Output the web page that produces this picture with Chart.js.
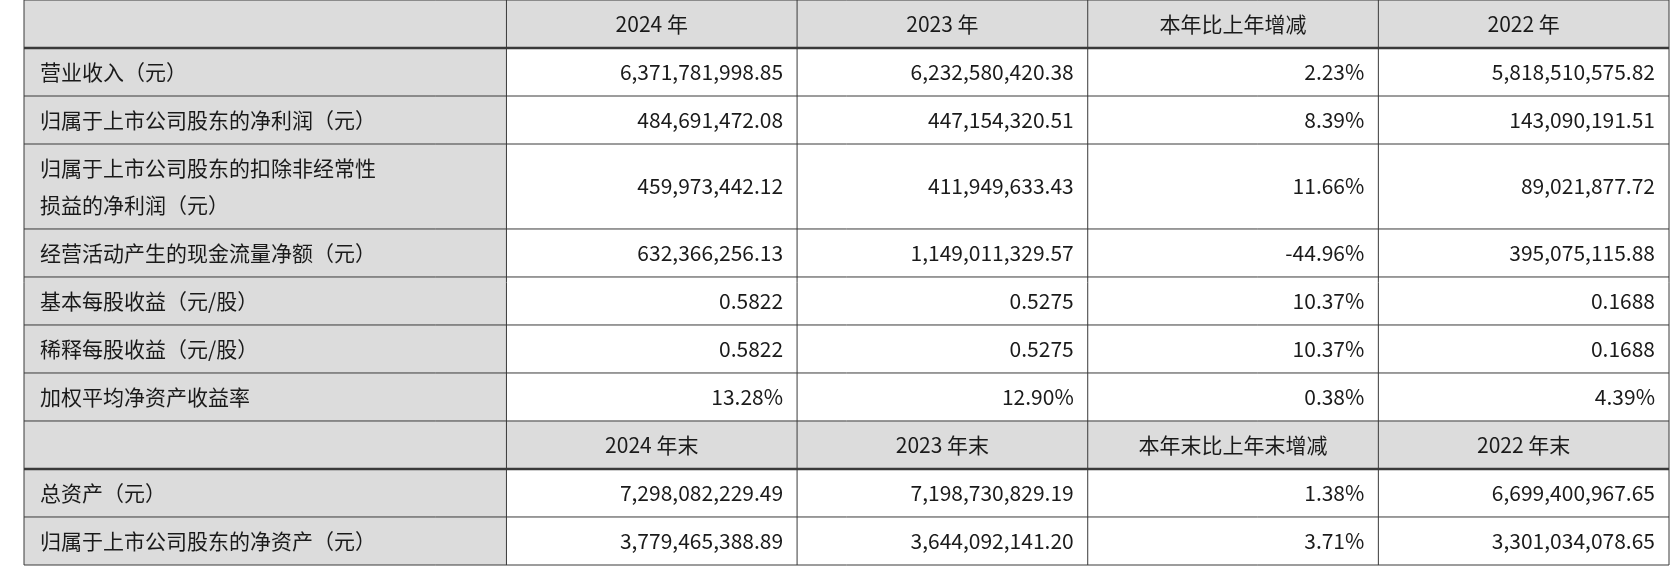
<!DOCTYPE html>
<html><head><meta charset="utf-8">
<script src="https://cdn.jsdelivr.net/npm/chart.js@4"></script>
<style>html,body{margin:0;padding:0;background:#fff}#w{width:1671px;height:578px}</style>
</head><body><div id="w"><canvas id="c"></canvas></div>
<script>
const header1 = ["", "2024 年", "2023 年", "本年比上年增减", "2022 年"];
const header2 = ["", "2024 年末", "2023 年末", "本年末比上年末增减", "2022 年末"];
const rowLabels1 = ["营业收入（元）", "归属于上市公司股东的净利润（元）", "归属于上市公司股东的扣除非经常性\n损益的净利润（元）", "经营活动产生的现金流量净额（元）", "基本每股收益（元/股）", "稀释每股收益（元/股）", "加权平均净资产收益率"];
const col2024 = ["6,371,781,998.85", "484,691,472.08", "459,973,442.12", "632,366,256.13", "0.5822", "0.5822", "13.28%"];
const col2023 = ["6,232,580,420.38", "447,154,320.51", "411,949,633.43", "1,149,011,329.57", "0.5275", "0.5275", "12.90%"];
const colChange = ["2.23%", "8.39%", "11.66%", "-44.96%", "10.37%", "10.37%", "0.38%"];
const col2022 = ["5,818,510,575.82", "143,090,191.51", "89,021,877.72", "395,075,115.88", "0.1688", "0.1688", "4.39%"];
const rowLabels2 = ["总资产（元）", "归属于上市公司股东的净资产（元）"];
const col2024b = ["7,298,082,229.49", "3,779,465,388.89"];
const col2023b = ["7,198,730,829.19", "3,644,092,141.20"];
const colChangeb = ["1.38%", "3.71%"];
const col2022b = ["6,699,400,967.65", "3,301,034,078.65"];

// table rows: [cells, isHeader, heightUnits]
const rows = [];
rows.push({cells: header1, header: true, h: 1});
rowLabels1.forEach((l, i) => rows.push({cells: [l, col2024[i], col2023[i], colChange[i], col2022[i]], header: false, h: i === 2 ? 1.77 : 1}));
rows.push({cells: header2, header: true, h: 1});
rowLabels2.forEach((l, i) => rows.push({cells: [l, col2024b[i], col2023b[i], colChangeb[i], col2022b[i]], header: false, h: 1}));
const totalH = rows.reduce((a, r) => a + r.h, 0);

const FONT = '"Noto Sans CJK SC", sans-serif';
const tablePlugin = {
  id: 'table',
  afterDraw(chart) {
    const ctx = chart.ctx, xs = chart.scales.x, ys = chart.scales.y;
    const colEdge = [-1.66, 0, 1, 2, 3, 4];
    const X = v => xs.getPixelForValue(v), Y = v => ys.getPixelForValue(v);
    let y0 = 0;
    ctx.save();
    rows.forEach((r, ri) => {
      const top = Y(y0), bot = Y(y0 + r.h);
      for (let c = 0; c < 5; c++) {
        const l = X(colEdge[c]), rr = X(colEdge[c + 1]);
        ctx.fillStyle = (r.header || c === 0) ? '#dcdcdc' : '#ffffff';
        ctx.fillRect(l, top, rr - l, bot - top);
        ctx.fillStyle = '#1a1a1a';
        ctx.font = '21px ' + FONT;
        ctx.textBaseline = 'middle';
        const lines = r.cells[c].split('\n');
        const lh = 37;
        lines.forEach((t, k) => {
          const ty = (top + bot) / 2 + (k - (lines.length - 1) / 2) * lh;
          if (r.header) { ctx.textAlign = 'center'; ctx.fillText(t, (l + rr) / 2, ty); }
          else if (c === 0) { ctx.textAlign = 'left'; ctx.fillText(t, l + 16, ty); }
          else { ctx.textAlign = 'right'; ctx.fillText(t, rr - 14, ty); }
        });
      }
      y0 += r.h;
    });
    // grid lines
    ctx.strokeStyle = '#3a3a3a';
    y0 = 0;
    const L = X(colEdge[0]), R = X(colEdge[5]);
    for (let i = 0; i <= rows.length; i++) {
      const yy = Y(y0);
      ctx.lineWidth = (i > 0 && i < rows.length && rows[i - 1].header) ? 2.5 : 1;
      ctx.beginPath(); ctx.moveTo(L, yy); ctx.lineTo(R, yy); ctx.stroke();
      if (i < rows.length) y0 += rows[i].h;
    }
    ctx.lineWidth = 1;
    colEdge.forEach(v => { ctx.beginPath(); ctx.moveTo(X(v), Y(0)); ctx.lineTo(X(v), Y(totalH)); ctx.stroke(); });
    ctx.restore();
  }
};

new Chart(document.getElementById('c'), {
  type: 'scatter',
  data: {datasets: [{data: []}]},
  options: {
    responsive: true, maintainAspectRatio: false, animation: false,
    layout: {padding: {left: 24, right: 2, top: 0, bottom: 13}},
    plugins: {legend: {display: false}, tooltip: {enabled: false}},
    scales: {
      x: {type: 'linear', min: -1.66, max: 4, display: false},
      y: {type: 'linear', min: 0, max: totalH, reverse: true, display: false}
    }
  },
  plugins: [tablePlugin]
});
</script></body></html>
